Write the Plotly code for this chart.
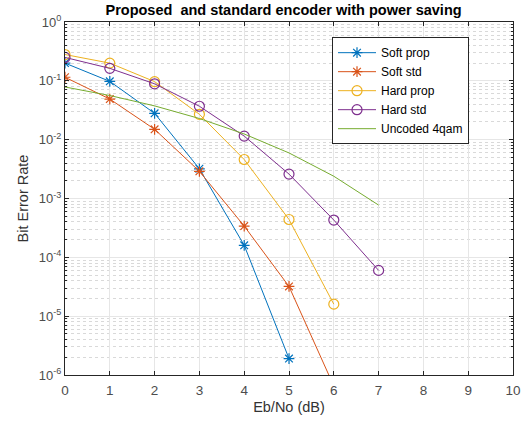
import plotly.graph_objects as go

ebno = [0, 1, 2, 3, 4, 5, 6, 7]

soft_prop_x = [0, 1, 2, 3, 4, 5]
soft_prop = [0.20, 0.098, 0.028, 0.0032, 1.6e-4, 1.9e-6]

soft_std_x = [0, 1, 2, 3, 4, 5, 6]
soft_std = [0.115, 0.049, 0.015, 0.0029, 3.4e-4, 3.2e-5, 6.5e-7]

hard_prop_x = [0, 1, 2, 3, 4, 5, 6]
hard_prop = [0.28, 0.20, 0.097, 0.027, 0.0046, 4.4e-4, 1.6e-5]

hard_std_x = [0, 1, 2, 3, 4, 5, 6, 7]
hard_std = [0.25, 0.163, 0.089, 0.037, 0.0115, 0.0026, 4.3e-4, 6.0e-5]

uncoded = [0.0786, 0.0563, 0.0375, 0.0229, 0.0125, 0.00595, 0.00239, 0.000773]

x_ticks = list(range(0, 11))
y_tickvals = [1e-6, 1e-5, 1e-4, 1e-3, 1e-2, 1e-1, 1]
y_ticktext = ["10<sup>-6</sup>", "10<sup>-5</sup>", "10<sup>-4</sup>", "10<sup>-3</sup>",
              "10<sup>-2</sup>", "10<sup>-1</sup>", "10<sup>0</sup>"]

colors = ["#0072BD", "#D95319", "#EDB120", "#7E2F8E", "#77AC30"]

fig = go.Figure()
fig.add_trace(go.Scatter(x=soft_prop_x, y=soft_prop, name="Soft prop", mode="lines+markers",
                         line=dict(color=colors[0], width=1),
                         marker=dict(symbol="asterisk-open", size=9, color=colors[0], line=dict(width=1.2, color=colors[0]))))
fig.add_trace(go.Scatter(x=soft_std_x, y=soft_std, name="Soft std", mode="lines+markers",
                         line=dict(color=colors[1], width=1),
                         marker=dict(symbol="asterisk-open", size=9, color=colors[1], line=dict(width=1.2, color=colors[1]))))
fig.add_trace(go.Scatter(x=hard_prop_x, y=hard_prop, name="Hard prop", mode="lines+markers",
                         line=dict(color=colors[2], width=1),
                         marker=dict(symbol="circle-open", size=10, color=colors[2], line=dict(width=1.2, color=colors[2]))))
fig.add_trace(go.Scatter(x=hard_std_x, y=hard_std, name="Hard std", mode="lines+markers",
                         line=dict(color=colors[3], width=1),
                         marker=dict(symbol="circle-open", size=10, color=colors[3], line=dict(width=1.2, color=colors[3]))))
fig.add_trace(go.Scatter(x=ebno, y=uncoded, name="Uncoded 4qam", mode="lines",
                         line=dict(color=colors[4], width=1)))

axis_color = "#262626"
fig.update_layout(
    width=532, height=423,
    margin=dict(l=65, r=19, t=22, b=48, autoexpand=False),
    paper_bgcolor="white", plot_bgcolor="white",
    font=dict(family="Liberation Sans, Arial, sans-serif", size=12, color=axis_color),
    title=dict(text="<b>Proposed  and standard encoder with power saving</b>",
               x=0.533, xanchor="center", y=0.977, yanchor="middle",
               font=dict(size=14.5, color="black"), automargin=False),
    showlegend=True,
    legend=dict(x=0.596, y=0.957, xanchor="left", yanchor="top",
                bgcolor="white", bordercolor=axis_color, borderwidth=1,
                font=dict(size=12, color="black"), tracegroupgap=0, itemwidth=38),
)
fig.update_xaxes(
    range=[0, 10], tickvals=x_ticks, ticks="inside", ticklen=4, tickcolor=axis_color,
    showline=True, linecolor=axis_color, linewidth=1, mirror="ticks",
    showgrid=True, gridcolor="#e6e6e6", gridwidth=1, zeroline=False, automargin=False,
    ticklabelstandoff=3,
    title=dict(text="Eb/No (dB)", font=dict(size=14.5, color="#333333"), standoff=4),
    tickfont=dict(size=13.5, color="#4d4d4d"),
)
fig.update_yaxes(
    type="log", range=[-6, 0], tickvals=y_tickvals, ticktext=y_ticktext,
    ticks="inside", ticklen=4, tickcolor=axis_color,
    showline=True, linecolor=axis_color, linewidth=1, mirror="ticks",
    showgrid=True, gridcolor="#e6e6e6", gridwidth=1, zeroline=False, automargin=False,
    minor=dict(dtick="D1", ticks="inside", ticklen=2, tickcolor=axis_color,
               showgrid=True, gridcolor="#d9d9d9", griddash="dot", gridwidth=1),
    title=dict(text="Bit Error Rate", font=dict(size=14.5, color="#333333"), standoff=6),
    tickfont=dict(size=13, color="#4d4d4d"),
)

fig.write_html("out.html", config={"displayModeBar": False},
               post_script="document.body.style.margin='0';document.body.style.padding='0';")
